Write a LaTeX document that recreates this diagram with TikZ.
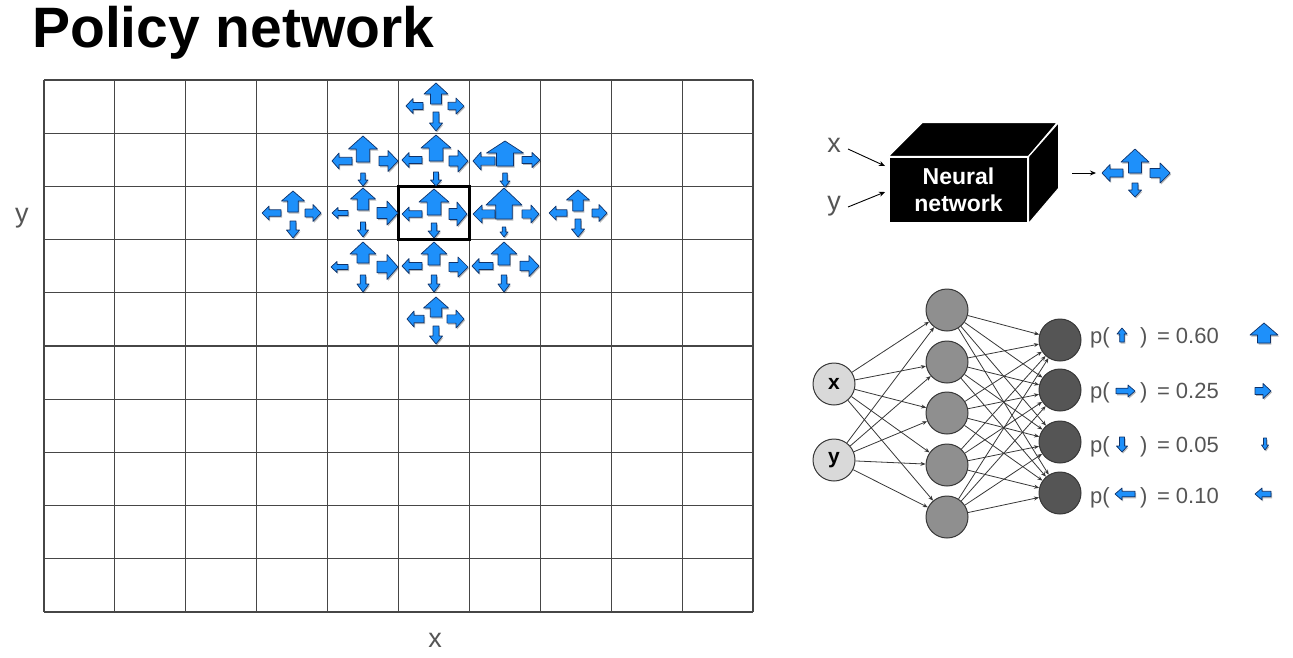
\documentclass[tikz,border=0pt]{standalone}
\usepackage{fontspec}
\setmainfont{Liberation Sans}
\usetikzlibrary{arrows.meta}
\definecolor{arrblue}{RGB}{30,144,250}
\definecolor{arredge}{RGB}{15,50,105}
\definecolor{txtgray}{RGB}{85,85,85}
\definecolor{gridgray}{RGB}{70,70,70}
\definecolor{ingray}{RGB}{217,217,217}
\definecolor{hidgray}{RGB}{143,143,143}
\definecolor{outgray}{RGB}{85,85,85}
\definecolor{nodeedge}{RGB}{55,55,55}
\newcommand\barr[6]{%
 \fill[black,opacity=0.28,shift={({#1+1},{#2+1.5})},rotate=#3] (0,{-0.23*#5}) -- ({#4-#6},{-0.23*#5}) -- ({#4-#6},{-0.5*#5}) -- (#4,0) -- ({#4-#6},{0.5*#5}) -- ({#4-#6},{0.23*#5}) -- (0,{0.23*#5}) -- cycle;
 \filldraw[arr,shift={(#1,#2)},rotate=#3] (0,{-0.23*#5}) -- ({#4-#6},{-0.23*#5}) -- ({#4-#6},{-0.5*#5}) -- (#4,0) -- ({#4-#6},{0.5*#5}) -- ({#4-#6},{0.23*#5}) -- (0,{0.23*#5}) -- cycle;}
\begin{document}
\begin{tikzpicture}[x=1pt,y=-1pt,
  arr/.style={fill=arrblue,draw=arredge,line width=0.7pt,line join=round},
  gridline/.style={draw=gridgray,line width=1.1pt},
  axislabel/.style={font=\fontsize{27}{30}\selectfont,text=txtgray,inner sep=0pt,anchor=base},
  neuron/.style={circle,minimum size=42pt,inner sep=0pt,draw=nodeedge,line width=1pt},
  edge/.style={draw=nodeedge,line width=0.8pt,-{Stealth[length=5pt,width=4pt]}},
  plabel/.style={font=\fontsize{22}{24}\selectfont,text=txtgray,inner sep=0pt,anchor=base west},
  thinarrow/.style={draw=black,line width=0.9pt,-{Stealth[length=6pt,width=5pt]}}]
\useasboundingbox (0,0) rectangle (1293,657);
% title
\node[anchor=base west,inner sep=0pt,font=\fontsize{57}{60}\selectfont\bfseries] (title) at (32,47) {Policy network};
% grid
\foreach \i in {0,...,10} \draw[gridline] ({44+70.9*\i},80) -- ({44+70.9*\i},612);
\foreach \j in {0,...,10} \draw[gridline] (44,{80+53.2*\j}) -- (753,{80+53.2*\j});
\draw[black,line width=2.6pt] (398.5,186.4) rectangle (469.4,239.6);
\node[axislabel] (gy) at (22,222) {y};
\node[axislabel] (gx) at (435,647) {x};
% row0 col5
\barr{436}{104}{90}{21}{24}{11}
\barr{423}{106}{180}{17}{15}{7}
\barr{448}{106}{0}{16}{16}{8}
\barr{436}{112}{270}{19}{13}{8}
% row1 col4
\barr{363}{162}{90}{26}{29}{13}
\barr{352}{161}{180}{20}{16}{7}
\barr{379}{161}{0}{19}{21}{10}
\barr{363}{173}{270}{13}{10}{6}
% row1 col5
\barr{436}{161}{90}{26}{30}{13}
\barr{422}{160}{180}{20}{15}{7}
\barr{449}{161}{0}{19}{22}{10}
\barr{436}{172}{270}{14}{11}{6}
% row1 col6
\barr{505}{166}{90}{25}{37}{12}
\barr{495}{161}{180}{22}{18}{8}
\barr{522}{160}{0}{18}{15}{8}
\barr{505}{173}{270}{14}{10}{6}
% row2 col3
\barr{293}{212}{90}{21}{23}{10}
\barr{281}{213}{180}{19}{14}{7}
\barr{305}{213}{0}{16}{17}{8}
\barr{293}{221}{270}{17}{13}{8}
% row2 col4
\barr{363}{210}{90}{22}{25}{11}
\barr{348}{213}{180}{16}{11}{6}
\barr{377}{213}{0}{21}{24}{11}
\barr{363}{222}{270}{15}{11}{7}
% row2 col5
\barr{434}{215}{90}{26}{30}{13}
\barr{422}{214}{180}{20}{14}{7}
\barr{449}{214}{0}{18}{24}{10}
\barr{434}{223}{270}{15}{12}{7}
% row2 col6
\barr{504}{219}{90}{31}{36}{17}
\barr{495}{214}{180}{22}{18}{9}
\barr{522}{214}{0}{17}{18}{8}
\barr{504}{227}{270}{10}{8}{5}
% row2 col7
\barr{578}{211}{90}{21}{23}{10}
\barr{567}{213}{180}{18}{14}{7}
\barr{592}{213}{0}{15}{17}{8}
\barr{578}{219}{270}{18}{13}{8}
% row3 col4
\barr{363}{263}{90}{21}{26}{12}
\barr{348}{267}{180}{17}{11}{6}
\barr{377}{267}{0}{21}{25}{11}
\barr{363}{275}{270}{17}{12}{8}
% row3 col5
\barr{434}{265}{90}{23}{26}{12}
\barr{422}{266}{180}{20}{15}{7}
\barr{449}{267}{0}{19}{20}{10}
\barr{434}{275}{270}{17}{12}{8}
% row3 col6
\barr{504}{265}{90}{23}{26}{12}
\barr{493}{266}{180}{21}{15}{7}
\barr{520}{266}{0}{19}{21}{10}
\barr{504}{275}{270}{17}{12}{8}
% row4 col5
\barr{436}{317}{90}{20}{25}{11}
\barr{424}{319}{180}{17}{16}{7}
\barr{447}{319}{0}{17}{18}{8}
\barr{436}{326}{270}{18}{13}{8}
% neural network box
\node[fill=black,draw=white,line width=1.2pt,minimum width=139pt,minimum height=66pt,inner sep=0pt,
      text=white,align=center,font=\fontsize{23}{27}\selectfont\bfseries] (nnbox) at (958.5,190) {Neural\\network};
\filldraw[fill=black,draw=white,line width=1.2pt] (nnbox.north west) -- ++(34,-34) -- ++(135,0) -- (nnbox.north east) -- cycle;
\filldraw[fill=black,draw=white,line width=1.2pt] (nnbox.north east) -- ++(30,-34) -- ++(0,66) -- (nnbox.south east) -- cycle;
\node[axislabel] (bx) at (834,152) {x};
\node[axislabel] (by) at (834,210) {y};
\coordinate (xa) at (848,149);
\coordinate (xb) at (885,166);
\coordinate (ya) at (848,207);
\coordinate (yb) at (885,192);
\coordinate (oa) at (1072,173);
\coordinate (ob) at (1096,173);
\draw[thinarrow] (xa) -- (xb);
\draw[thinarrow] (ya) -- (yb);
\draw[thinarrow] (oa) -- (ob);
\barr{1135}{173}{90}{24}{28}{13}
\barr{1123}{173}{180}{21}{17}{8}
\barr{1150}{173}{0}{20}{20}{10}
\barr{1135}{183}{270}{14}{13}{7}
% network
\node[neuron,fill=ingray,font=\fontsize{21}{24}\selectfont\bfseries] (i1) at (834,384) {x};
\node[neuron,fill=ingray,font=\fontsize{21}{24}\selectfont\bfseries] (i2) at (834,460) {y};
\node[neuron,fill=hidgray] (h1) at (947,310) {};
\node[neuron,fill=hidgray] (h2) at (947,362) {};
\node[neuron,fill=hidgray] (h3) at (947,413) {};
\node[neuron,fill=hidgray] (h4) at (947,465) {};
\node[neuron,fill=hidgray] (h5) at (947,517) {};
\node[neuron,fill=outgray] (o1) at (1060,340) {};
\node[neuron,fill=outgray] (o2) at (1060,390) {};
\node[neuron,fill=outgray] (o3) at (1060,442) {};
\node[neuron,fill=outgray] (o4) at (1060,493) {};
\foreach \a in {1,2} \foreach \b in {1,...,5} \draw[edge] (i\a) -- (h\b);
\foreach \a in {1,...,5} \foreach \b in {1,...,4} \draw[edge] (h\a) -- (o\b);
% probability labels
\node[plabel] (p1a) at (1090,343) {p(};
\node[plabel] (p1b) at (1140,343) {)\hspace{9.5pt}= 0.60};
\node[plabel] (p2a) at (1090,398) {p(};
\node[plabel] (p2b) at (1140,398) {)\hspace{9.5pt}= 0.25};
\node[plabel] (p3a) at (1090,452) {p(};
\node[plabel] (p3b) at (1140,452) {)\hspace{9.5pt}= 0.05};
\node[plabel] (p4a) at (1090,503) {p(};
\node[plabel] (p4b) at (1140,503) {)\hspace{9.5pt}= 0.10};
\barr{1122}{342}{90}{14}{10}{6}
\barr{1116}{391}{0}{19}{12}{7}
\barr{1122}{437}{270}{15}{11}{6}
\barr{1135}{494}{180}{20}{12}{7}
\barr{1264}{343}{90}{20}{28}{12}
\barr{1255}{391}{0}{16}{15}{8}
\barr{1265}{438}{270}{12}{7}{5}
\barr{1271}{494}{180}{16}{12}{7}
\end{tikzpicture}
\end{document}
